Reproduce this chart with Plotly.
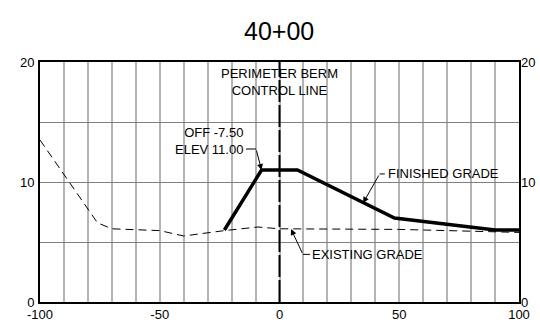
import plotly.graph_objects as go

# existing ground profile (offset, elevation)
existing_x = [-100, -76, -70, -50, -40, -23, -9, 0, 50, 100]
existing_y = [13.5, 6.6, 6.1, 5.95, 5.5, 5.95, 6.25, 6.1, 6.05, 5.8]

# finished grade profile
finished_x = [-23, -7.5, 7.5, 48, 90, 100]
finished_y = [6.0, 11.0, 11.0, 7.0, 6.0, 6.0]

x_ticks = [-100, -50, 0, 50, 100]
y_ticks = [0, 10, 20]
x_grid = list(range(-100, 101, 10))
y_grid = list(range(0, 21, 5))

FONT = "Arial, Liberation Sans, sans-serif"

fig = go.Figure()

fig.add_trace(go.Scatter(
    x=existing_x, y=existing_y, mode='lines',
    line=dict(color='black', width=1, dash='8px,5px'),
    showlegend=False, hoverinfo='skip'
))
fig.add_trace(go.Scatter(
    x=finished_x, y=finished_y, mode='lines',
    line=dict(color='black', width=3.5),
    showlegend=False, hoverinfo='skip'
))
# invisible trace so the right axis gets drawn
fig.add_trace(go.Scatter(x=[0], y=[0], yaxis='y2', mode='markers',
                         marker=dict(opacity=0), showlegend=False, hoverinfo='skip'))

# control line at offset 0
fig.add_shape(type='line', x0=0, x1=0, y0=0, y1=20, xref='x', yref='y',
              line=dict(color='black', width=2, dash='22px,3px'))

# leader lines (horizontal stubs)
fig.add_shape(type='line', x0=-14.0, x1=-9.8, y0=12.75, y1=12.75,
              line=dict(color='black', width=1))
fig.add_shape(type='line', x0=41.8, x1=44.0, y0=10.67, y1=10.67,
              line=dict(color='black', width=1))
fig.add_shape(type='line', x0=9.8, x1=12.7, y0=3.97, y1=3.97,
              line=dict(color='black', width=1))

ann_font = dict(family=FONT, size=13, color='black')


def callout(tip, tail):
    fig.add_annotation(x=tip[0], y=tip[1], ax=tail[0], ay=tail[1],
                       xref='x', yref='y', axref='x', ayref='y',
                       text='', showarrow=True, arrowhead=2, arrowsize=1.2,
                       arrowwidth=1, arrowcolor='black')


callout((-7.5, 11.0), (-9.8, 12.75))
callout((34.9, 8.25), (41.8, 10.67))
callout((4.8, 6.08), (9.8, 3.97))

fig.add_annotation(x=0, y=18.3, text='PERIMETER BERM<br>CONTROL LINE', showarrow=False,
                   font=ann_font, xanchor='center', yanchor='middle', align='center')
fig.add_annotation(x=-14.2, y=13.45, text='OFF -7.50<br>ELEV 11.00', showarrow=False,
                   font=ann_font, xanchor='right', yanchor='middle', align='right')
fig.add_annotation(x=44.3, y=10.67, text='FINISHED GRADE', showarrow=False,
                   font=ann_font, xanchor='left', yanchor='middle')
fig.add_annotation(x=12.9, y=3.97, text='EXISTING GRADE', showarrow=False,
                   font=ann_font, xanchor='left', yanchor='middle')

x_text = [str(v) if v in x_ticks else '' for v in x_grid]
y_text = [str(v) if v in y_ticks else '' for v in y_grid]

fig.update_layout(
    width=540, height=327,
    margin=dict(l=40, r=21, t=62, b=25, autoexpand=False),
    paper_bgcolor='white', plot_bgcolor='white',
    title=dict(text='40+00', x=0.517, xanchor='center', y=0.905, yanchor='middle',
               font=dict(family=FONT, size=25, color='black')),
    xaxis=dict(range=[-100, 100], tickvals=x_grid, ticktext=x_text, automargin=False,
               showgrid=True, gridcolor='#b4b4b4', gridwidth=2,
               showline=True, linecolor='black', linewidth=1.5, mirror=True,
               zeroline=False, ticks='', tickfont=dict(family=FONT, size=13, color='black')),
    yaxis=dict(range=[0, 20], tickvals=y_grid, ticktext=y_text, automargin=False,
               showgrid=True, gridcolor='#808080', gridwidth=1,
               showline=True, linecolor='black', linewidth=2, mirror=True,
               zeroline=False, ticks='', ticklabelstandoff=1,
               tickfont=dict(family=FONT, size=13, color='black')),
    yaxis2=dict(range=[0, 20], tickvals=y_grid, ticktext=y_text, overlaying='y',
                side='right', showgrid=False, zeroline=False, ticks='', automargin=False,
                ticklabelstandoff=1,
                tickfont=dict(family=FONT, size=13, color='black')),
)

# drop the default page margin so the figure sits at the window's corner
fig.write_html("out.html", config={'displayModeBar': False},
               post_script="document.body.style.margin='0';")
